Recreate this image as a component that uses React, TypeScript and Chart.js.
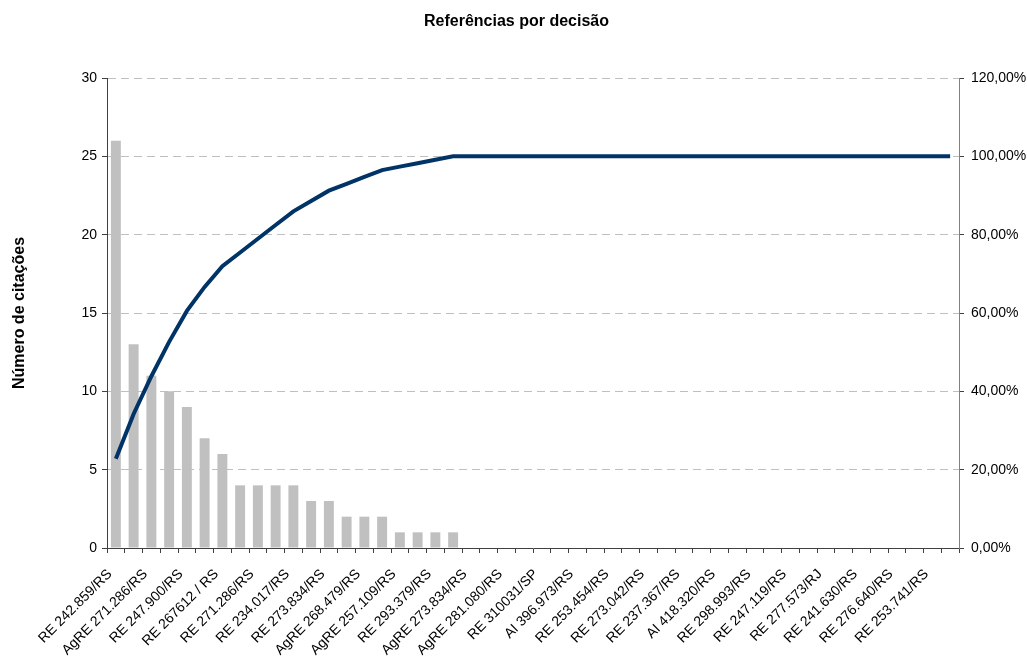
import React, { useEffect, useRef } from "react";
import { Chart, registerables } from "chart.js";

Chart.register(...registerables);

// Labels shown on the x axis (every other category)
const visibleLabels: string[] = [
  "RE 242.859/RS", "AgRE 271.286/RS", "RE 247.900/RS", "RE 267612 / RS",
  "RE 271.286/RS", "RE 234.017/RS", "RE 273.834/RS", "AgRE 268.479/RS",
  "AgRE 257.109/RS", "RE 293.379/RS", "AgRE 273.834/RS", "AgRE 281.080/RS",
  "RE 310031/SP", "AI 396.973/RS", "RE 253.454/RS", "RE 273.042/RS",
  "RE 237.367/RS", "AI 418.320/RS", "RE 298.993/RS", "RE 247.119/RS",
  "RE 277.573/RJ", "RE 241.630/RS", "RE 276.640/RS", "RE 253.741/RS",
];

// 48 categories; the unlabeled (skipped) ones are unreadable in the source
const categories: string[] = visibleLabels.flatMap((l) => [l, ""]);

// Number of citations per decision
const citations: number[] = [
  26, 13, 11, 10, 9, 7, 6, 4, 4, 4, 4, 3, 3, 2, 2, 2, 1, 1, 1, 1,
  0, 0, 0, 0, 0, 0, 0, 0, 0, 0, 0, 0, 0, 0, 0, 0, 0, 0, 0, 0,
  0, 0, 0, 0, 0, 0, 0, 0,
];

// Cumulative percentage
const cumulativePct: number[] = [
  22.81, 34.21, 43.86, 52.63, 60.53, 66.67, 71.93, 75.44, 78.95, 82.46,
  85.96, 88.6, 91.23, 92.98, 94.74, 96.49, 97.37, 98.25, 99.12, 100,
  100, 100, 100, 100, 100, 100, 100, 100, 100, 100,
  100, 100, 100, 100, 100, 100, 100, 100, 100, 100,
  100, 100, 100, 100, 100, 100, 100, 100,
];

const FONT = "'Liberation Sans', Arial, sans-serif";

export default function App() {
  const ref = useRef<HTMLCanvasElement | null>(null);

  useEffect(() => {
    if (!ref.current) return;
    const chart = new Chart(ref.current, {
      type: "bar",
      data: {
        labels: categories,
        datasets: [
          {
            type: "line",
            label: "Acumulado",
            data: cumulativePct,
            yAxisID: "y1",
            borderColor: "#003366",
            borderWidth: 4,
            pointRadius: 0,
            tension: 0,
            fill: false,
            order: 0,
          } as any,
          {
            type: "bar",
            label: "Número de citações",
            data: citations,
            yAxisID: "y",
            backgroundColor: "#C0C0C0",
            barPercentage: 0.56,
            categoryPercentage: 1,
            order: 1,
          },
        ],
      },
      options: {
        responsive: true,
        maintainAspectRatio: false,
        animation: false,
        layout: { padding: { left: 6, right: 0, top: 0, bottom: 0 } },
        plugins: {
          legend: { display: false },
          tooltip: { enabled: false },
          title: {
            display: true,
            text: "Referências por decisão",
            color: "#000",
            font: { family: FONT, size: 16, weight: "bold" },
            padding: { top: 12, bottom: 46.8 },
          },
        },
        scales: {
          x: {
            type: "category",
            grid: {
              offset: true,
              drawOnChartArea: false,
              drawTicks: true,
              tickLength: 5,
              color: "#404040",
            },
            border: { color: "#404040" },
            ticks: {
              autoSkip: false,
              maxRotation: 45,
              minRotation: 45,
              padding: 13,
              labelOffset: -6,
              color: "#000",
              font: { family: FONT, size: 14 },
              callback: (_v: any, i: number) => categories[i],
            },
            afterFit: (s: any) => {
              s.height = 111;
            },
          },
          y: {
            position: "left",
            min: 0,
            max: 30,
            ticks: {
              stepSize: 5,
              padding: 5,
              color: "#000",
              font: { family: FONT, size: 14 },
            },
            grid: {
              color: "#BFBFBF",
              tickColor: "#404040",
              tickLength: 5,
              tickBorderDash: [],
            },
            border: { color: "#404040", dash: [8, 5] },
            title: {
              display: true,
              text: "Número de citações",
              color: "#000",
              font: { family: FONT, size: 16, weight: "bold" },
              padding: { top: 4, bottom: 0 },
            },
            afterFit: (s: any) => {
              s.width = 101;
            },
          },
          y1: {
            position: "right",
            min: 0,
            max: 120,
            ticks: {
              stepSize: 20,
              padding: 7,
              color: "#000",
              font: { family: FONT, size: 14 },
              callback: (v: any) => Number(v).toFixed(2).replace(".", ",") + "%",
            },
            grid: {
              drawOnChartArea: false,
              tickLength: 5,
              color: "#404040",
            },
            border: { color: "#808080" },
            afterFit: (s: any) => {
              s.width = 68;
            },
          },
        },
      } as any,
    });
    return () => chart.destroy();
  }, []);

  return (
    <div
      style={{
        position: "absolute",
        left: 0,
        top: 0,
        width: 1027,
        height: 659,
        background: "#fff",
      }}
    >
      <canvas ref={ref} />
    </div>
  );
}
